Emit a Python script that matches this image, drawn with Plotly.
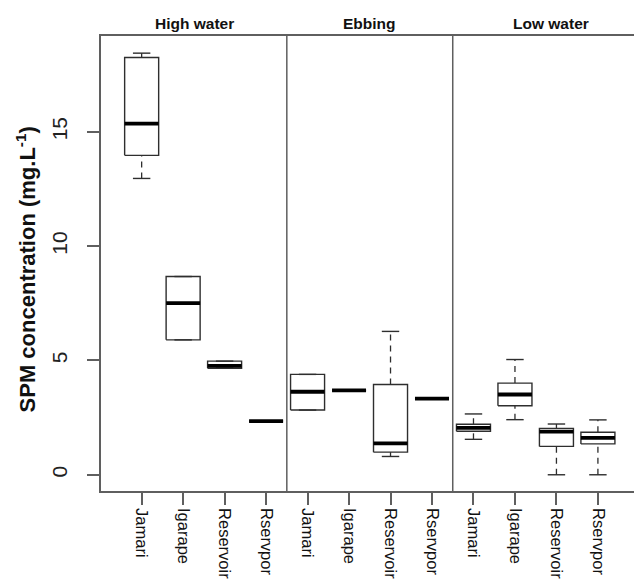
import plotly.graph_objects as go

# ---------------- data ----------------
periods = ["High water", "Ebbing", "Low water"]
sites = ["Jamari", "Igarape", "Reservoir", "Rservpor"]

# box statistics per box (periods x sites, in order)
lower = [12.96, 5.90, 4.66, 2.35, 2.83, 3.69, 0.80, 3.33, 1.55, 2.41, 0.00, 0.00]
q1 = [13.97, 5.90, 4.66, 2.35, 2.83, 3.69, 0.99, 3.33, 1.90, 3.02, 1.24, 1.35]
median = [15.36, 7.51, 4.76, 2.35, 3.63, 3.69, 1.37, 3.33, 2.05, 3.51, 1.89, 1.61]
q3 = [18.25, 8.67, 4.97, 2.35, 4.39, 3.69, 3.95, 3.33, 2.21, 4.01, 2.03, 1.86]
upper = [18.44, 8.67, 4.97, 2.35, 4.39, 3.69, 6.27, 3.33, 2.66, 5.04, 2.22, 2.40]

y_ticks = [0, 5, 10, 15]
y_title = "SPM concentration (mg.L<sup>-1</sup>)"

# ---------------- layout constants ----------------
BOX_HALF = 0.41
STAPLE_HALF = 0.21
FONT = "Liberation Sans, Arial, sans-serif"
FRAME = "#5f5f5f"
BOXC = "#2e2e2e"

n_sites = len(sites)
positions = list(range(1, len(median) + 1))
tick_text = [s for _ in periods for s in sites]

bx, by, wx, wy, sx, sy, mx, my = [], [], [], [], [], [], [], []
for p, lo, a, m, b, hi in zip(positions, lower, q1, median, q3, upper):
    # box outline
    bx += [p - BOX_HALF, p + BOX_HALF, p + BOX_HALF, p - BOX_HALF, p - BOX_HALF, None]
    by += [a, a, b, b, a, None]
    # whiskers
    wx += [p, p, None, p, p, None]
    wy += [lo, a, None, b, hi, None]
    # staples
    sx += [p - STAPLE_HALF, p + STAPLE_HALF, None, p - STAPLE_HALF, p + STAPLE_HALF, None]
    sy += [lo, lo, None, hi, hi, None]
    # median
    mx += [p - BOX_HALF, p + BOX_HALF, None]
    my += [m, m, None]

fig = go.Figure()
fig.add_trace(go.Scatter(x=wx, y=wy, mode="lines", hoverinfo="skip",
                         line=dict(color=BOXC, width=1.3, dash="6px,5px")))
fig.add_trace(go.Scatter(x=sx, y=sy, mode="lines", hoverinfo="skip",
                         line=dict(color=BOXC, width=1.4)))
fig.add_trace(go.Scatter(x=bx, y=by, mode="lines", hoverinfo="skip",
                         line=dict(color=BOXC, width=1.4)))
fig.add_trace(go.Scatter(x=mx, y=my, mode="lines", hoverinfo="skip",
                         line=dict(color="#000000", width=3.8)))

# separators between periods
for k in range(1, len(periods)):
    xs = k * n_sites + 0.5
    fig.add_shape(type="line", xref="x", yref="paper", x0=xs, x1=xs, y0=0, y1=1,
                  line=dict(color=FRAME, width=1.5), layer="above")

# period labels above plot
strip_x = [2.27, 6.5, 10.87]
for lab, xx in zip(periods, strip_x):
    fig.add_annotation(x=xx, xref="x", y=1, yref="paper", yshift=13, yanchor="middle",
                       text="<b>" + lab + "</b>", showarrow=False,
                       font=dict(family=FONT, size=15.5, color="#111111"))

# y-axis title
fig.add_annotation(x=0, xref="paper", xshift=-75, xanchor="center",
                   y=0.487, yref="paper", yanchor="middle", textangle=-90,
                   text="<b>" + y_title + "</b>", showarrow=False,
                   font=dict(family=FONT, size=22, color="#111111"))

fig.update_layout(
    width=634, height=579,
    margin=dict(l=101, r=0, t=36, b=86),
    paper_bgcolor="white", plot_bgcolor="white",
    showlegend=False,
    font=dict(family=FONT, color="#111111"),
    xaxis=dict(range=[0.02, 12.87], tickmode="array", tickvals=positions, ticktext=tick_text,
               tickangle=90, ticks="outside", ticklen=12, tickwidth=1.5, tickcolor=FRAME,
               showline=True, linecolor=FRAME, linewidth=1.5, mirror=True,
               showgrid=False, zeroline=False, tickfont=dict(size=16.5, family=FONT, color="#111111")),
    yaxis=dict(range=[-0.71, 19.19], tickmode="array", tickvals=y_ticks,
               ticktext=[str(v) for v in y_ticks], tickangle=-90,
               ticks="outside", ticklen=12, tickwidth=1.5, tickcolor=FRAME,
               showline=True, linecolor=FRAME, linewidth=1.5, mirror=False,
               showgrid=False, zeroline=False, ticklabelstandoff=12,
               tickfont=dict(size=21, family=FONT, color="#222222")),
)

fig.write_html("out.html")
